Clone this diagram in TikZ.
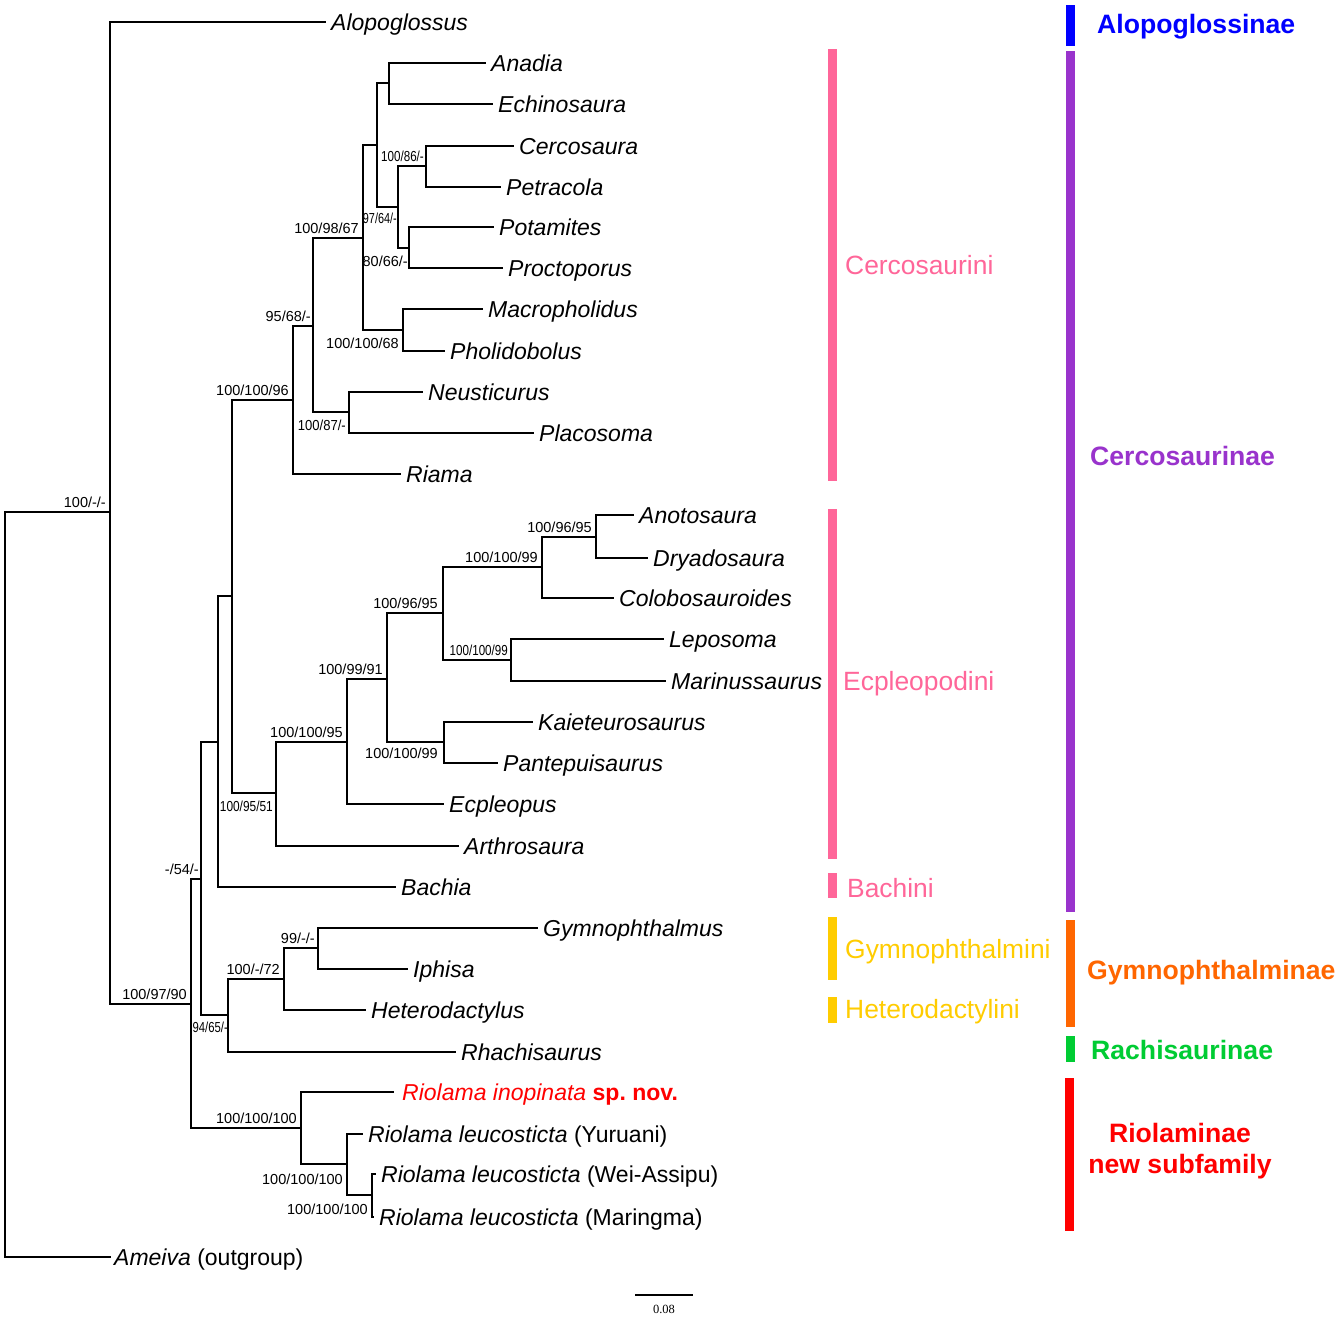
\documentclass[tikz,border=0pt]{standalone}
\usepackage{fontspec}
\setmainfont{Liberation Sans}
\newfontfamily\scalefont{Liberation Serif}
\definecolor{cpink}{RGB}{255,102,153}
\definecolor{cpurple}{RGB}{153,51,204}
\definecolor{cblue}{RGB}{0,0,255}
\definecolor{cyellow}{RGB}{255,204,0}
\definecolor{corange}{RGB}{255,102,0}
\definecolor{cgreen}{RGB}{0,204,51}
\definecolor{cred}{RGB}{255,0,0}
\frenchspacing
\begin{document}
\begin{tikzpicture}[x=1pt,y=-1pt,
  br/.style={line width=2.7pt, line cap=rect, line join=miter},
  tip/.style={anchor=base west, inner sep=0pt, xshift=6pt, yshift=-8.5pt, font=\fontsize{23}{27}\selectfont},
  bs/.style={anchor=east, inner sep=0pt, xshift=-4pt, font=\fontsize{14.5}{17}\selectfont},
  bsa/.style={bs, yshift=10pt},
  bsb/.style={bs, yshift=-13pt},
  tribe/.style={anchor=base west, inner sep=0pt, font=\fontsize{26.4}{31}\selectfont},
  subfam/.style={anchor=base west, inner sep=0pt, font=\fontsize{26.6}{31}\selectfont\bfseries}]
\path[fill=white] (0,0) rectangle (1338,1320);
\useasboundingbox (0,0) rectangle (1338,1320);

% internal nodes
\coordinate (root) at (5,885);
\coordinate (n1) at (110,512);
\coordinate (n2) at (191,1004);
\coordinate (n3) at (201,879);
\coordinate (n4) at (218,742);
\coordinate (n5) at (232,596);
\coordinate (nC) at (293,400);
\coordinate (nD) at (313,326);
\coordinate (nF) at (363,238);
\coordinate (nA) at (377,145);
\coordinate (nAE) at (389,83);
\coordinate (nCP) at (398,207);
\coordinate (nCe) at (426,166);
\coordinate (nPo) at (409,248);
\coordinate (nMP) at (403,330);
\coordinate (nNP) at (349,412);
\coordinate (nE) at (276,793);
\coordinate (nE2) at (347,742);
\coordinate (nE3) at (387,679);
\coordinate (nE4) at (443,613);
\coordinate (nE5) at (542,567);
\coordinate (nAD) at (596,537);
\coordinate (nLM) at (511,660);
\coordinate (nKP) at (444,742);
\coordinate (nG) at (228,1015);
\coordinate (nG2) at (284,979);
\coordinate (nG3) at (318,948);
\coordinate (nR) at (301,1128);
\coordinate (nR2) at (347,1164);
\coordinate (nR3) at (372,1195);

% tips
\coordinate (tAlo) at (325,22);
\coordinate (tAna) at (485,63);
\coordinate (tEch) at (492,104);
\coordinate (tCer) at (513,146);
\coordinate (tPet) at (500,187);
\coordinate (tPot) at (493,227);
\coordinate (tPro) at (502,268);
\coordinate (tMac) at (482,309);
\coordinate (tPho) at (444,351);
\coordinate (tNeu) at (422,392);
\coordinate (tPla) at (533,433);
\coordinate (tRia) at (400,474);
\coordinate (tAno) at (633,515);
\coordinate (tDry) at (647,558);
\coordinate (tCol) at (613,598);
\coordinate (tLep) at (663,639);
\coordinate (tMar) at (665,681);
\coordinate (tKai) at (532,722);
\coordinate (tPan) at (497,763);
\coordinate (tEcp) at (443,804);
\coordinate (tArt) at (458,846);
\coordinate (tBac) at (395,887);
\coordinate (tGym) at (537,928);
\coordinate (tIph) at (407,969);
\coordinate (tHet) at (365,1010);
\coordinate (tRha) at (455,1052);
\coordinate (tRin) at (393,1092);
\coordinate (tYur) at (362,1134);
\coordinate (tWei) at (375,1174);
\coordinate (tMrg) at (373,1217);
\coordinate (tAme) at (110,1257);

% branches
\foreach \p/\c in {root/n1, root/tAme, n1/tAlo, n1/n2, n2/n3, n2/nR, n3/n4, n3/nG,
  n4/n5, n4/tBac, n5/nC, n5/nE, nC/nD, nC/tRia, nD/nF, nD/nNP, nF/nA, nF/nMP,
  nA/nAE, nA/nCP, nAE/tAna, nAE/tEch, nCP/nCe, nCP/nPo, nCe/tCer, nCe/tPet,
  nPo/tPot, nPo/tPro, nMP/tMac, nMP/tPho, nNP/tNeu, nNP/tPla,
  nE/nE2, nE/tArt, nE2/nE3, nE2/tEcp, nE3/nE4, nE3/nKP, nE4/nE5, nE4/nLM,
  nE5/nAD, nE5/tCol, nAD/tAno, nAD/tDry, nLM/tLep, nLM/tMar, nKP/tKai, nKP/tPan,
  nG/nG2, nG/tRha, nG2/nG3, nG2/tHet, nG3/tGym, nG3/tIph,
  nR/tRin, nR/nR2, nR2/tYur, nR2/nR3, nR3/tWei, nR3/tMrg}
  \draw[br] (\p) |- (\c);

% tip labels
\node[tip] (lAlo) at (tAlo) {\textit{Alopoglossus}};
\node[tip] (lAna) at (tAna) {\textit{Anadia}};
\node[tip] (lEch) at (tEch) {\textit{Echinosaura}};
\node[tip] (lCer) at (tCer) {\textit{Cercosaura}};
\node[tip] (lPet) at (tPet) {\textit{Petracola}};
\node[tip] (lPot) at (tPot) {\textit{Potamites}};
\node[tip] (lPro) at (tPro) {\textit{Proctoporus}};
\node[tip] (lMac) at (tMac) {\textit{Macropholidus}};
\node[tip] (lPho) at (tPho) {\textit{Pholidobolus}};
\node[tip] (lNeu) at (tNeu) {\textit{Neusticurus}};
\node[tip] (lPla) at (tPla) {\textit{Placosoma}};
\node[tip] (lRia) at (tRia) {\textit{Riama}};
\node[tip] (lAno) at (tAno) {\textit{Anotosaura}};
\node[tip] (lDry) at (tDry) {\textit{Dryadosaura}};
\node[tip] (lCol) at (tCol) {\textit{Colobosauroides}};
\node[tip] (lLep) at (tLep) {\textit{Leposoma}};
\node[tip] (lMar) at (tMar) {\textit{Marinussaurus}};
\node[tip] (lKai) at (tKai) {\textit{Kaieteurosaurus}};
\node[tip] (lPan) at (tPan) {\textit{Pantepuisaurus}};
\node[tip] (lEcp) at (tEcp) {\textit{Ecpleopus}};
\node[tip] (lArt) at (tArt) {\textit{Arthrosaura}};
\node[tip] (lBac) at (tBac) {\textit{Bachia}};
\node[tip] (lGym) at (tGym) {\textit{Gymnophthalmus}};
\node[tip] (lIph) at (tIph) {\textit{Iphisa}};
\node[tip] (lHet) at (tHet) {\textit{Heterodactylus}};
\node[tip] (lRha) at (tRha) {\textit{Rhachisaurus}};
\node[tip, text=cred, xshift=3pt] (lRin) at (tRin) {\textit{Riolama inopinata} \textbf{sp. nov.}};
\node[tip] (lYur) at (tYur) {\textit{Riolama leucosticta} (Yuruani)};
\node[tip] (lWei) at (tWei) {\textit{Riolama leucosticta} (Wei-Assipu)};
\node[tip] (lMrg) at (tMrg) {\textit{Riolama leucosticta} (Maringma)};
\node[tip, xshift=-2pt] (lAme) at (tAme) {\textit{Ameiva} (outgroup)};

% support values
\node[bsa] (s1) at (n1) {100/-/-};
\node[bsa] (s2) at (n2) {100/97/90};
\node[bsa, xshift=2pt] (s3) at (n3) {-/54/-};
\node[bsa] (sC) at (nC) {100/100/96};
\node[bsa, xshift=2pt] (sD) at (nD) {95/68/-};
\node[bsa] (sF) at (nF) {100/98/67};
\node[bsa, xshift=2pt] (sCe) at (nCe) {\scalebox{0.8}[1]{100/86/-}};
\node[bsb, xshift=3pt, yshift=2pt] (sCP) at (nCP) {\scalebox{0.75}[1]{97/64/-}};
\node[bsb, xshift=3pt] (sPo) at (nPo) {80/66/-};
\node[bsb] (sMP) at (nMP) {100/100/68};
\node[bsb, xshift=1pt] (sNP) at (nNP) {\scalebox{0.9}[1]{100/87/-}};
\node[bsb, xshift=1pt] (sE) at (nE) {\scalebox{0.82}[1]{100/95/51}};
\node[bsa] (sE2) at (nE2) {100/100/95};
\node[bsa] (sE3) at (nE3) {100/99/91};
\node[bsa, xshift=-1pt] (sE4) at (nE4) {100/96/95};
\node[bsa] (sE5) at (nE5) {100/100/99};
\node[bsa] (sAD) at (nAD) {100/96/95};
\node[bsa, xshift=1pt] (sLM) at (nLM) {\scalebox{0.8}[1]{100/100/99}};
\node[bsb, xshift=-2pt, yshift=2pt] (sKP) at (nKP) {100/100/99};
\node[bsb, xshift=4pt, yshift=1pt] (sG) at (nG) {\scalebox{0.78}[1]{94/65/-}};
\node[bsa] (sG2) at (nG2) {100/-/72};
\node[bsa, xshift=1pt] (sG3) at (nG3) {99/-/-};
\node[bsa] (sR) at (nR) {100/100/100};
\node[bsb, yshift=-2pt] (sR2) at (nR2) {100/100/100};
\node[bsb, yshift=-1pt] (sR3) at (nR3) {100/100/100};

% scale bar
\coordinate (sbL) at (635,1295);
\coordinate (sbR) at (693,1295);
\draw[line width=1.3pt] (sbL) -- (sbR);
\node[inner sep=0pt, font=\scalefont\fontsize{12.5}{14}\selectfont] (sbT) at (664,1309) {0.08};

% tribe bars
\fill[cpink] (828,49) rectangle (837,481);
\fill[cpink] (828,509) rectangle (837,859);
\fill[cpink] (828,873) rectangle (837,898);
\fill[cyellow] (828,917) rectangle (837,980);
\fill[cyellow] (828,997) rectangle (837,1023);
\node[tribe, text=cpink] (tCerc) at (845,274) {Cercosaurini};
\node[tribe, text=cpink] (tEcpl) at (843,690) {Ecpleopodini};
\node[tribe, text=cpink] (tBach) at (847,897) {Bachini};
\node[tribe, text=cyellow] (tGymn) at (845,958) {Gymnophthalmini};
\node[tribe, text=cyellow] (tHete) at (845,1018) {Heterodactylini};

% subfamily bars
\fill[cblue] (1066,5) rectangle (1075,46);
\fill[cpurple] (1066,51) rectangle (1075,912);
\fill[corange] (1066,920) rectangle (1075,1027);
\fill[cgreen] (1066,1036) rectangle (1075,1062);
\fill[cred] (1065,1078) rectangle (1074,1231);
\node[subfam, text=cblue] (sfAlo) at (1097,33) {Alopoglossinae};
\node[subfam, text=cpurple] (sfCer) at (1090,465) {Cercosaurinae};
\node[subfam, text=corange] (sfGym) at (1087,979) {Gymnophthalminae};
\node[subfam, text=cgreen] (sfRha) at (1091,1059) {Rachisaurinae};
\node[subfam, text=cred, anchor=base] (sfRio1) at (1180,1142) {Riolaminae};
\node[subfam, text=cred, anchor=base] (sfRio2) at (1180,1173) {new subfamily};
\end{tikzpicture}
\end{document}
